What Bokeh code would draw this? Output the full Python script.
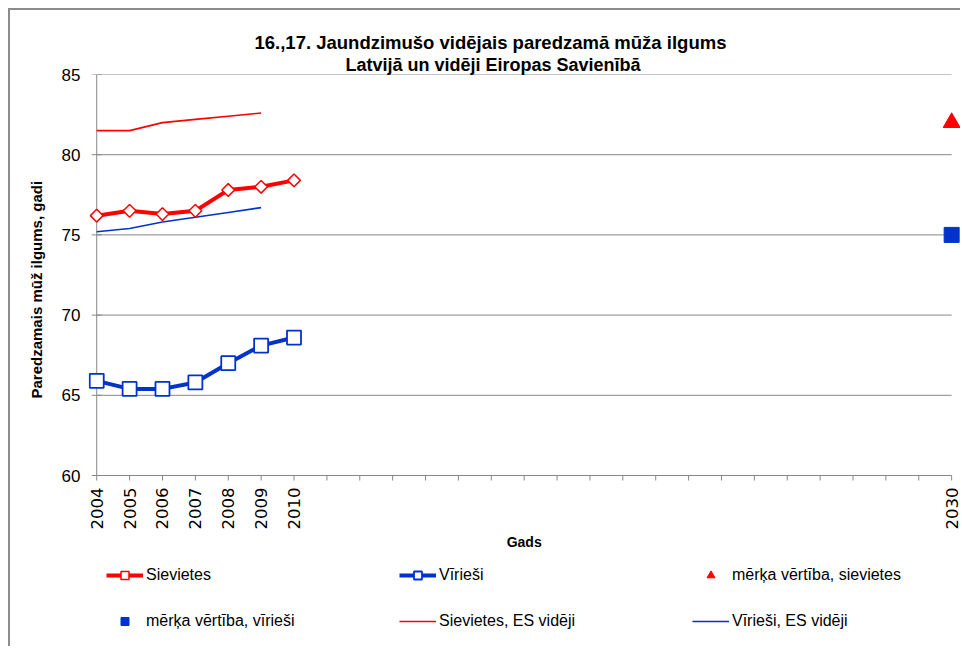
import numpy as np
from bokeh.plotting import figure
from bokeh.models import (Range1d, FixedTicker, Legend, LegendItem, Title)
from bokeh.core.properties import value
from bokeh.embed import file_html
from bokeh.resources import INLINE

# ---- data ----
years = [2004, 2005, 2006, 2007, 2008, 2009, 2010]
women = [76.2, 76.5, 76.3, 76.5, 77.8, 78.0, 78.4]
men = [65.9, 65.4, 65.4, 65.8, 67.0, 68.1, 68.6]
es_years = [2004, 2005, 2006, 2007, 2008, 2009]
women_es = [81.5, 81.5, 82.0, 82.2, 82.4, 82.6]
men_es = [75.2, 75.4, 75.8, 76.1, 76.4, 76.7]
target_year = [2030]
target_women = [82.0]
target_men = [75.0]

x_ticks = list(range(2004, 2031))
x_labeled = [2004, 2005, 2006, 2007, 2008, 2009, 2010, 2030]
y_ticks = [60, 65, 70, 75, 80, 85]

title1 = "16.,17. Jaundzimušo vidējais paredzamā mūža ilgums"
title2 = "Latvijā un vidēji Eiropas Savienībā"
x_title = "Gads"
y_title = "Paredzamais mūž ilgums, gadi"
labels = ["Sievietes", "Vīrieši", "mērķa vērtība, sievietes",
          "mērķa vērtība, vīrieši", "Sievietes, ES vidēji", "Vīrieši, ES vidēji"]

RED = "#FF0000"
BLUE = "#0033CC"
GREY = "#878787"
FONT = "Liberation Sans"

# layout constants (pixels)
W, H = 952, 638
TOP, LEFT, RIGHT = 64, 78, 0
PLOT_H = 401                      # height of the 60..85 value band
px_per_unit = PLOT_H / (y_ticks[-1] - y_ticks[0])
below_px = H - TOP - PLOT_H       # room under the value band (axis + legend)
y_lo = y_ticks[0] - below_px / px_per_unit

def dy(px):
    """pixel distance -> data distance on the y scale"""
    return px / px_per_unit

p = figure(width=W, height=H, output_backend="svg", toolbar_location=None,
           x_range=Range1d(2003.75, 2030.33), y_range=Range1d(y_lo, y_ticks[-1]),
           min_border_left=LEFT, min_border_right=RIGHT, min_border_top=TOP,
           min_border_bottom=0)
p.styles = {"margin-left": "8px", "margin-top": "8px",
            "border-left": "2px solid #8c8c8c", "border-top": "2px solid #8c8c8c"}
p.outline_line_color = None
p.xgrid.grid_line_color = None
p.ygrid.grid_line_color = None
p.xaxis.visible = False
p.background_fill_color = "white"
p.border_fill_color = "white"

# titles (added nearest-first)
t2 = Title(text=title2, align="left", offset=257, text_font=FONT, text_color="black",
           text_font_size="18px", text_font_style="bold", standoff=0)
t1 = Title(text=title1, align="left", offset=166, text_font=FONT, text_color="black",
           text_font_size="18.5px", text_font_style="bold", standoff=0)
p.add_layout(t2, "above")
p.add_layout(t1, "above")

# y axis (labels only)
ya = p.yaxis[0]
ya.ticker = FixedTicker(ticks=y_ticks)
ya.major_label_text_font = FONT
ya.major_label_text_font_size = "17px"
ya.major_label_text_color = "black"
ya.major_label_standoff = 8
ya.major_tick_out = 0
ya.major_tick_in = 0
ya.major_tick_line_color = None
ya.minor_tick_line_color = None
ya.axis_line_color = None

ty = Title(text=y_title, align="left", offset=250, text_font=FONT, text_color="black",
           text_font_size="15px", text_font_style="bold", standoff=28)
p.add_layout(ty, "left")

# gridlines and axis lines spanning the category extent
x0, x1 = x_ticks[0], x_ticks[-1]
y0 = y_ticks[0]
p.segment(x0=[x0] * len(y_ticks), x1=[x1] * len(y_ticks), y0=y_ticks, y1=y_ticks,
          line_color=GREY, line_width=1)
p.segment(x0=[x0], x1=[x0], y0=[y0], y1=[y_ticks[-1]], line_color=GREY, line_width=1)
p.scatter(x=[x0] * len(y_ticks), y=y_ticks, marker="dash", size=10,
          line_color=GREY, line_width=1)
# x ticks and labels
p.segment(x0=x_ticks, x1=x_ticks, y0=[y0] * len(x_ticks), y1=[y0 - dy(5)] * len(x_ticks),
          line_color=GREY, line_width=1)
p.text(x=x_labeled, y=[y0 - dy(12)] * len(x_labeled), text=[str(v) for v in x_labeled],
       angle=np.pi / 2, text_align="right", text_baseline="middle",
       text_font=value("DejaVu Sans"), text_font_size="16.5px", text_color="black")
p.text(x=[(x0 + x1) / 2], y=[y0 - dy(66)], text=[x_title], text_align="center",
       text_baseline="middle", text_font=value(FONT), text_font_size="14px",
       text_font_style="bold", text_color="black")

# EU averages
r_wes = p.line(es_years, women_es, line_color=RED, line_width=1.6)
r_mes = p.line(es_years, men_es, line_color=BLUE, line_width=1.6)

# Latvia
r_wl = p.line(years, women, line_color=RED, line_width=4)
r_wm = p.scatter(years, women, marker="square", angle=np.pi / 4, size=9,
                 fill_color="white", line_color=RED, line_width=1.5)
r_ml = p.line(years, men, line_color=BLUE, line_width=4)
r_mm = p.scatter(years, men, marker="square", size=14,
                 fill_color="white", line_color=BLUE, line_width=1.8)

# targets
r_tw = p.scatter(target_year, target_women, marker="triangle", size=17,
                 fill_color=RED, line_color=RED)
r_tm = p.scatter(target_year, target_men, marker="square", size=15,
                 fill_color=BLUE, line_color=BLUE)

items = [LegendItem(label=labels[0], renderers=[r_wl, r_wm]),
         LegendItem(label=labels[1], renderers=[r_ml, r_mm]),
         LegendItem(label=labels[2], renderers=[r_tw]),
         LegendItem(label=labels[3], renderers=[r_tm]),
         LegendItem(label=labels[4], renderers=[r_wes]),
         LegendItem(label=labels[5], renderers=[r_mes])]
lg = Legend(items=items, location=(18, 17), orientation="horizontal", ncols=3,
            glyph_width=37, glyph_height=20, label_height=20, label_width=227,
            label_standoff=3, spacing=26, padding=0, margin=0,
            border_line_color=None, background_fill_alpha=0,
            label_text_font=FONT, label_text_font_size="16px",
            label_text_color="black")
p.add_layout(lg, "center")

open("out.html", "w").write(file_html(p, INLINE))
